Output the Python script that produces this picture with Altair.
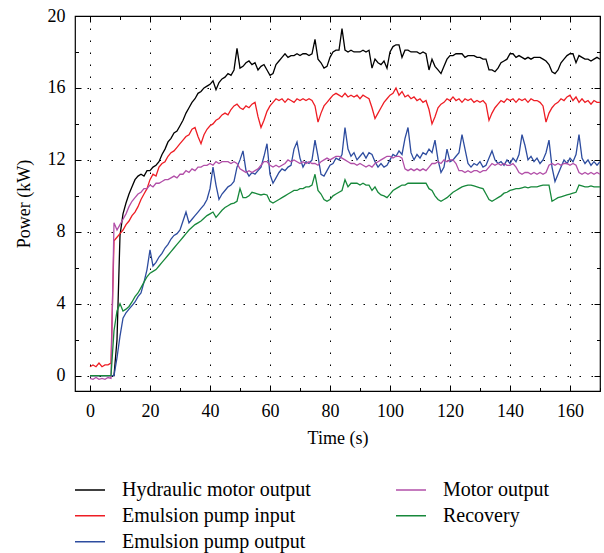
import altair as alt
import pandas as pd

T = list(range(171))

hydraulic = [
    0, 0, 0, 0, 0, 0, 0, 0, 0, 2.0,
    7.8, 9.0, 9.6, 10.1, 10.5, 10.9, 11.1, 11.2, 11.1, 11.4,
    11.4, 11.6, 11.7, 11.9, 12.3, 12.6, 13.0, 13.2, 13.5, 13.6,
    13.9, 14.2, 14.6, 14.9, 15.2, 15.4, 15.7, 15.8, 16.0, 16.1,
    16.2, 16.4, 15.9, 16.3, 16.5, 16.6, 16.8, 16.7, 17.0, 18.2,
    17.1, 17.2, 17.4, 17.5, 17.3, 17.4, 17.0, 17.2, 17.3, 17.0,
    16.7, 16.8, 17.3, 17.5, 17.7, 17.9, 17.7, 17.8, 17.8, 17.9,
    17.8, 17.9, 17.9, 17.8, 17.9, 18.7, 17.6, 17.4, 17.1, 17.2,
    17.7, 18.0, 18.1, 18.1, 19.3, 18.1, 18.0, 18.1, 18.0, 18.0,
    18.0, 18.1, 18.0, 18.1, 17.1, 17.6, 17.4, 17.3, 17.5, 17.1,
    18.0, 18.3, 18.4, 18.4, 17.7, 18.1, 18.1, 18.0, 18.0, 18.0,
    17.9, 18.0, 17.9, 17.0, 17.6, 17.2, 17.0, 16.8, 17.2, 17.6,
    17.8, 17.8, 17.9, 17.9, 17.9, 17.7, 17.8, 17.8, 17.8, 17.7,
    17.7, 17.6, 17.6, 17.0, 17.0, 16.9, 17.1, 17.4, 17.5, 17.6,
    17.9, 17.9, 17.7, 17.8, 17.7, 17.6, 17.7, 17.6, 17.7, 17.7,
    17.7, 17.6, 17.5, 17.3, 16.9, 16.8, 17.0, 17.4, 17.6, 17.8,
    17.9, 17.9, 17.4, 17.8, 17.7, 17.6, 17.6, 17.5, 17.6, 17.7,
    17.6,
]

pump_input = [
    0.5, 0.6, 0.5, 0.7, 0.5, 0.6, 0.6, 0.7, 7.5, 7.7,
    7.9, 8.1, 8.4, 8.6, 8.9, 9.1, 9.4, 9.8, 10.1, 10.4,
    10.9, 11.2, 11.1, 11.6, 11.8, 11.9, 12.2, 12.4, 12.5, 12.7,
    12.9, 13.1, 13.3, 13.4, 13.7, 13.8, 13.3, 12.9, 13.4, 13.7,
    13.9, 14.0, 14.2, 14.3, 14.5, 14.6, 14.5, 14.8, 15.0, 15.1,
    14.9, 14.8, 15.0, 14.9, 15.1, 15.2, 14.4, 13.8, 14.2, 14.7,
    15.0, 15.2, 15.4, 15.3, 15.4, 15.2, 15.4, 15.3, 15.2, 15.4,
    15.3, 15.4, 15.3, 15.4, 15.3, 15.0, 14.1, 14.6, 15.0, 15.2,
    15.4, 15.6, 15.7, 15.6, 15.5, 15.7, 15.5, 15.6, 15.5, 15.6,
    15.4, 15.6, 15.5, 15.4, 14.9, 14.3, 14.6, 14.9, 15.2, 15.4,
    15.6, 15.7, 16.0, 15.6, 15.8, 15.5, 15.6, 15.4, 15.5, 15.3,
    15.4, 15.2, 15.3, 14.8, 14.0, 14.4, 14.9, 15.1, 15.2, 15.4,
    15.3, 15.5, 15.3, 15.4, 15.2, 15.4, 15.3, 15.4, 15.2, 15.3,
    15.2, 15.3, 15.1, 14.2, 14.6, 14.9, 15.1, 15.3, 15.2, 15.4,
    15.3, 15.4, 15.2, 15.4, 15.3, 15.4, 15.2, 15.4, 15.3, 15.3,
    15.2, 15.0, 14.1, 14.6, 14.9, 15.1, 15.2, 15.4, 15.3, 15.5,
    15.6, 15.3, 15.5, 15.2, 15.4, 15.2, 15.3, 15.1, 15.3, 15.2,
    15.2,
]

pump_output = [
    0, 0, 0, 0, 0, 0, 0, 0, 0, 1.0,
    2.2, 3.2, 3.5, 3.7, 3.9, 4.1, 4.4, 4.6, 5.2, 5.9,
    7.0, 6.1, 6.3, 6.6, 6.8, 7.1, 7.3, 7.6, 7.8, 7.9,
    8.1, 8.6, 9.1, 8.5, 8.7, 8.9, 9.1, 9.3, 9.5, 9.8,
    10.4, 11.6, 10.6, 9.8, 10.1, 10.3, 10.5, 10.6, 10.8, 11.6,
    12.0, 12.5, 11.4, 11.1, 11.3, 11.2, 11.4, 11.6, 12.2, 12.9,
    11.2, 10.7, 11.0, 11.3, 11.5, 11.4, 11.6, 11.7, 12.6, 13.0,
    12.1, 11.6, 11.9, 11.8, 12.0, 13.1, 12.2, 11.2, 11.1, 11.4,
    11.7, 11.8, 12.1, 12.0, 12.3, 13.8, 12.6, 12.2, 12.4, 12.0,
    12.2, 12.4, 12.1, 12.4, 12.3, 11.9, 11.6, 11.8, 11.6, 11.7,
    12.0, 12.3, 12.2, 12.5, 12.3, 13.2, 13.8, 12.4, 12.0, 12.3,
    12.1, 12.4, 12.3, 12.6, 12.4, 13.1, 12.0, 11.3, 11.6, 12.6,
    11.9, 12.0, 12.2, 12.4, 13.4, 12.6, 11.8, 11.6, 11.8, 11.7,
    11.9, 11.6, 11.7, 12.1, 12.5, 12.0, 11.8, 11.9, 11.7, 12.0,
    11.8, 12.1, 11.9, 12.3, 13.4, 12.8, 12.0, 12.2, 11.9, 12.1,
    11.8, 12.0, 12.4, 13.1, 11.6, 10.8, 11.2, 11.6, 12.0, 11.8,
    12.1, 11.9, 12.3, 13.4, 12.1, 11.8, 12.0, 11.7, 11.9, 11.7,
    11.9,
]

motor_output = [
    -0.15, -0.2, -0.1, -0.2, -0.15, -0.2, -0.1, -0.15, 8.5, 8.1,
    8.4, 8.7, 9.0, 9.4, 9.7, 9.9, 10.1, 10.2, 10.4, 10.4,
    10.6, 10.5, 10.7, 10.7, 10.8, 10.9, 10.9, 11.0, 11.1, 11.0,
    11.2, 11.2, 11.4, 11.3, 11.5, 11.4, 11.6, 11.6, 11.7, 11.7,
    11.8, 11.7, 11.9, 11.8, 11.9, 11.9, 11.9, 11.8, 11.9, 11.8,
    11.5, 11.4, 11.3, 11.4, 11.3, 11.4, 11.5, 11.7, 11.9, 11.9,
    11.7, 11.6, 11.7, 11.6, 11.7, 11.8, 12.0, 11.9, 12.0, 11.9,
    11.8, 11.9, 11.8, 11.9, 11.8, 11.8, 11.7, 11.9, 12.0, 12.1,
    12.0, 12.1, 12.2, 12.2, 12.1, 12.0, 11.9, 11.8, 11.8, 11.7,
    11.8, 11.7, 11.6, 11.7, 11.6, 11.8, 11.9, 12.0, 12.1, 12.2,
    12.2, 12.1, 12.2, 12.2, 12.1, 11.5, 11.4, 11.5, 11.4, 11.5,
    11.4, 11.5, 11.4, 11.6, 11.8, 11.8, 11.9, 11.8, 12.0, 11.9,
    12.0, 12.0, 11.8, 11.4, 11.4, 11.3, 11.4, 11.3, 11.4, 11.4,
    11.3, 11.4, 11.4, 11.6, 11.8, 11.7, 11.8, 11.7, 11.8, 11.7,
    11.7, 11.8, 11.6, 11.3, 11.2, 11.3, 11.3, 11.2, 11.3, 11.2,
    11.3, 11.2, 11.3, 11.7, 11.8, 11.7, 11.8, 11.7, 11.8, 11.8,
    11.7, 11.8, 11.7, 11.3, 11.2, 11.3, 11.2, 11.3, 11.2, 11.3,
    11.2,
]

recovery = [
    0, 0, 0, 0, 0, 0, 0, 0, 2.5, 3.6,
    4.0, 3.6, 3.7, 3.85, 4.1, 4.4, 4.6, 4.9, 5.2, 5.5,
    5.7, 5.8, 5.9, 6.1, 6.3, 6.5, 6.7, 6.9, 7.1, 7.3,
    7.5, 7.7, 7.9, 8.1, 8.25, 8.4, 8.5, 8.6, 8.75, 8.9,
    9.0, 9.1, 8.8, 9.0, 9.2, 9.35, 9.45, 9.55, 9.6, 9.7,
    10.4, 9.9, 9.9, 10.0, 10.2, 10.15, 10.1, 10.05, 10.1, 10.05,
    9.7, 9.6, 9.7, 9.8, 9.9, 10.0, 10.1, 10.2, 10.3, 10.3,
    10.4, 10.4, 10.5, 10.5, 10.6, 11.2, 10.3, 10.1, 9.8, 9.7,
    9.8, 10.0, 10.1, 10.2, 10.3, 10.9, 10.5, 10.7, 10.7, 10.7,
    10.6, 10.7, 10.6, 10.6, 10.3, 10.5, 10.2, 10.05, 10.0, 9.9,
    10.1, 10.3, 10.4, 10.5, 10.6, 10.6, 10.7, 10.7, 10.7, 10.7,
    10.7, 10.7, 10.7, 10.4, 10.3, 10.0, 9.8, 9.7, 9.8, 9.9,
    10.05, 10.2, 10.3, 10.4, 10.5, 10.55, 10.6, 10.6, 10.55, 10.5,
    10.45, 10.4, 10.1, 9.8, 9.7, 9.8, 9.9, 10.0, 10.15, 10.2,
    10.3, 10.35, 10.4, 10.4, 10.45, 10.5, 10.45, 10.5, 10.5, 10.5,
    10.55, 10.6, 10.6, 10.6, 9.7, 9.8, 9.9, 9.95, 10.0, 10.05,
    10.1, 10.15, 10.2, 10.6, 10.55, 10.5, 10.5, 10.55, 10.5, 10.5,
    10.5,
]

# legend fills column by column: first column holds the first three
SERIES = ["Hydraulic motor output", "Emulsion pump input", "Emulsion pump output",
          "Motor output", "Recovery"]
COLORS = ["#000000", "#ee1d24", "#2d4c9f", "#b24fa8", "#17883b"]
VALUES = [hydraulic, pump_input, pump_output, motor_output, recovery]

X_TICKS = list(range(0, 161, 20))
Y_TICKS = list(range(0, 21, 4))
X_ALL = list(range(0, 171, 10))
Y_ALL = list(range(0, 21, 2))

rows = []
for name, vals in zip(SERIES, VALUES):
    for t, v in zip(T, vals):
        rows.append({"t": t, "v": v, "s": name})
df = pd.DataFrame(rows)

FONT = "Liberation Serif"
W, H = 525, 375
xs = alt.Scale(domain=[-5, 170], nice=False, zero=False)
ys = alt.Scale(domain=[-0.85, 20], nice=False, zero=False)

tsx = {"condition": {"test": "datum.value % 20 === 0", "value": 6}, "value": 3.5}
tsy = {"condition": {"test": "datum.value % 4 === 0", "value": 6}, "value": 3.5}

base = alt.Chart(df)

lines = base.mark_line(strokeWidth=1.3, clip=True).encode(
    x=alt.X("t:Q", scale=xs, axis=alt.Axis(
        orient="bottom", values=X_TICKS, title="Time (s)", ticks=False, tickSize=0,
        domain=False, grid=True, gridDash=[1.5, 10.5], gridColor="#000000",
        gridWidth=1, labelPadding=11, labelFont=FONT, labelFontSize=18,
        labelColor="#000000", titleFont=FONT, titleFontSize=18,
        titleFontWeight="normal", titleColor="#000000", titlePadding=9)),
    y=alt.Y("v:Q", scale=ys, axis=alt.Axis(
        orient="left", values=Y_TICKS, title="Power (kW)", ticks=False, tickSize=0,
        domain=False, grid=True, gridDash=[1.5, 10.5], gridColor="#000000",
        gridWidth=1, labelPadding=10, labelFont=FONT, labelFontSize=18,
        labelColor="#000000", titleFont=FONT, titleFontSize=18,
        titleFontWeight="normal", titleColor="#000000", titlePadding=14)),
    color=alt.Color("s:N", scale=alt.Scale(domain=SERIES, range=COLORS),
                    legend=alt.Legend(
                        orient="none", legendX=-1, legendY=461, columns=2,
                        title=None, symbolType="stroke", symbolSize=900,
                        symbolStrokeWidth=1.3, labelFont=FONT, labelFontSize=20,
                        labelColor="#000000", labelOffset=16, columnPadding=84,
                        rowPadding=0, clipHeight=25.5, labelLimit=400)),
)

ticks_a = base.mark_line(strokeOpacity=0).encode(
    x=alt.X("t:Q", scale=xs, axis=alt.Axis(
        orient="top", offset=-H, values=X_ALL, labels=False, title=None,
        domain=False, grid=False, tickSize=tsx, tickColor="#000000", tickWidth=1)),
    y=alt.Y("v:Q", scale=ys, axis=alt.Axis(
        orient="right", offset=-W, values=Y_ALL, labels=False, title=None,
        domain=False, grid=False, tickSize=tsy, tickColor="#000000", tickWidth=1)),
)

ticks_b = base.mark_line(strokeOpacity=0).encode(
    x=alt.X("t:Q", scale=xs, axis=alt.Axis(
        orient="bottom", offset=-H, values=X_ALL, labels=False, title=None,
        domain=False, grid=False, tickSize=tsx, tickColor="#000000", tickWidth=1)),
    y=alt.Y("v:Q", scale=ys, axis=alt.Axis(
        orient="left", offset=-W, values=Y_ALL, labels=False, title=None,
        domain=False, grid=False, tickSize=tsy, tickColor="#000000", tickWidth=1)),
)

chart = alt.layer(lines, ticks_a, ticks_b).resolve_axis(
    x="independent", y="independent"
).properties(
    width=W, height=H,
    padding={"left": 75, "top": 16, "right": 4, "bottom": 162},
    autosize=alt.AutoSizeParams(type="none"),
    background="#ffffff",
).configure_view(stroke="#000000", strokeWidth=1.2)

chart.save("out.html", embed_options={"renderer": "svg", "actions": False})
